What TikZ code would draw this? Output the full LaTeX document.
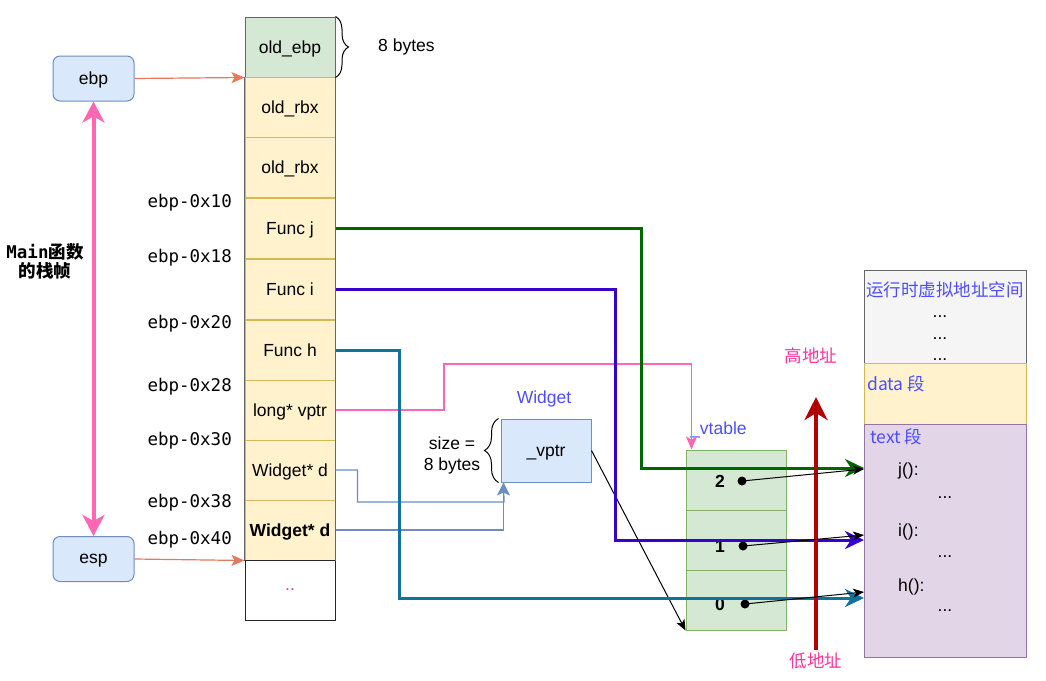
\documentclass[tikz,border=0pt]{standalone}
\usepackage{fontspec}
\setmainfont{Liberation Sans}
\setmonofont{DejaVu Sans Mono}
\newfontfamily\cjk{Noto Sans CJK SC}
\usetikzlibrary{arrows.meta,decorations.pathreplacing}
\definecolor{yelf}{HTML}{FFF2CC}
\definecolor{yelb}{HTML}{D6B656}
\definecolor{grnf}{HTML}{D5E8D4}
\definecolor{grnb}{HTML}{82B366}
\definecolor{bluf}{HTML}{DAE8FC}
\definecolor{blub}{HTML}{6C8EBF}
\definecolor{purf}{HTML}{E1D5E7}
\definecolor{purb}{HTML}{9673A6}
\definecolor{gryf}{HTML}{F5F5F5}
\definecolor{gryb}{HTML}{666666}
\definecolor{lgreen}{HTML}{006600}
\definecolor{lviolet}{HTML}{3700CC}
\definecolor{lblue}{HTML}{10739E}
\definecolor{lpink}{HTML}{FF66B3}
\definecolor{lred}{HTML}{B20000}
\definecolor{lsalmon}{RGB}{229,120,95}
\definecolor{tblue}{HTML}{4D4DFF}
\definecolor{tpink}{HTML}{FF3399}
\newcommand\myfs{\fontsize{17.5}{21}\selectfont}
\begin{document}
\begin{tikzpicture}[x=1pt,y=-1pt,font=\myfs,
  cell/.style={draw=yelb,fill=yelf,line width=1pt,minimum width=90pt,minimum height=60pt,inner sep=0pt,text depth=0pt},
  vcell/.style={draw=grnb,fill=grnf,line width=1pt,minimum width=100pt,minimum height=60pt,inner sep=0pt},
  offs/.style={font=\myfs\ttfamily,anchor=east,inner sep=0pt,text depth=0pt},
  regbox/.style={draw=blub,fill=bluf,line width=1pt,rounded corners=7pt,minimum width=81pt,minimum height=45pt,inner sep=0pt,text depth=0pt},
  thick3/.style={line width=3pt,-{Stealth[length=19pt,width=18pt,inset=6pt]}},
  blk/.style={line width=1pt,black,-{Stealth[length=11pt,width=9pt,inset=3pt]}},
  wline/.style={draw=blub,line width=1.3pt},
  dot/.style={circle,fill=black,inner sep=0pt,minimum size=9pt},
  plain/.style={inner sep=0pt}]
\useasboundingbox (0,0) rectangle (1046,680);

% stack
\node[cell,draw=gryb,fill=grnf] (c0) at (290,47) {old\_ebp};
\node[cell] (c1) at (290,107) {old\_rbx};
\node[cell] (c2) at (290,167.5) {old\_rbx};
\node[cell] (c3) at (290,228.5) {Func j};
\node[cell] (c4) at (290,289.5) {Func i};
\node[cell] (c5) at (290,350) {Func h};
\node[cell] (c6) at (290,410) {long* vptr};
\node[cell] (c7) at (290,470) {Widget* d};
\node[cell] (c8) at (290,530) {\bfseries Widget* d};
\node[cell,draw=black!85,fill=white,text=tpink] (c9) at (290,590) {..};
\draw[gryb,line width=1pt] (c1.north west) -- (c8.south west);
\draw[gryb,line width=1pt] (c1.north east) -- (c8.south east);

% offsets
\node[offs] (o1) at (232,201) {ebp-0x10};
\node[offs] (o2) at (232,256) {ebp-0x18};
\node[offs] (o3) at (232,322) {ebp-0x20};
\node[offs] (o4) at (232,385) {ebp-0x28};
\node[offs] (o5) at (232,439) {ebp-0x30};
\node[offs] (o6) at (232,501) {ebp-0x38};
\node[offs] (o7) at (232,538) {ebp-0x40};

% brace 8 bytes
\draw[line width=1pt,decorate,decoration={brace,amplitude=13pt}] (c0.north east) -- (c0.south east);
\node[plain,anchor=west] (b8) at (378,47) {8 bytes};

% registers
\node[regbox] (ebp) at (93.5,78.5) {ebp};
\node[regbox] (esp) at (93.5,559) {esp};
\draw[lsalmon,line width=1.2pt,-{Stealth[length=13pt,width=11pt,inset=3pt]}] (ebp.east) -- (c0.south west);
\draw[lsalmon,line width=1.2pt,-{Stealth[length=13pt,width=11pt,inset=3pt]}] (esp.east) -- (c8.south west);
\draw[lpink,line width=4pt,{Stealth[length=21pt,width=22pt,inset=6pt]}-{Stealth[length=21pt,width=22pt,inset=6pt]}] (ebp.south) -- (esp.north);
\node[plain,align=center] (mainlbl) at (45,261) {{\ttfamily\bfseries Main}{\cjk\bfseries 函数}\\[-2pt]{\cjk\bfseries 的栈帧}};

% Widget
\node[draw=blub,fill=bluf,line width=1pt,minimum width=90pt,minimum height=63pt,inner sep=0pt,text depth=0pt] (vptr) at (546,450.5) {\_vptr};
\node[plain,text=tblue] (wlbl) at (544,399) {Widget};
\draw[line width=1pt,decorate,decoration={brace,amplitude=14pt}] ([xshift=-2pt]vptr.south west) -- ([xshift=-2pt]vptr.north west);
\node[plain,align=center] (sz) at (452,455) {size =\\8 bytes};
\draw[wline] (c7.east) -- ++(22,0) |- (504,502) -- ([xshift=3pt]vptr.south west);
\draw[wline,-{Stealth[length=13pt,width=13pt,inset=3pt]}] (c8.east) -| ([xshift=3pt]vptr.south west);

% vtable
\node[vcell] (vt2) at (736,480) {};
\node[vcell] (vt1) at (736,540) {};
\node[vcell] (vt0) at (736,600) {};
\node[plain,text=tblue,anchor=west] (vtl) at (690,430) {\_vtable};
\node[plain,font=\myfs\bfseries] (n2) at (720,481) {2};
\node[plain,font=\myfs\bfseries] (n1) at (720,546) {1};
\node[plain,font=\myfs\bfseries] (n0) at (720,604) {0};
\node[dot] (d2) at (742,481) {};
\node[dot] (d1) at (743,546) {};
\node[dot] (d0) at (745,604) {};
\draw[blk] (vptr.east) -- (vt0.south west);

% memory
\node[draw=gryb,fill=gryf,line width=1pt,minimum width=162pt,minimum height=93pt,inner sep=0pt] (mg) at (945,316.5) {};
\node[draw=yelb,fill=yelf,line width=1pt,minimum width=162pt,minimum height=61pt,inner sep=0pt] (md) at (945,393.5) {};
\node[draw=purb,fill=purf,line width=1pt,minimum width=162pt,minimum height=233pt,inner sep=0pt] (mt) at (945,540.5) {};
\node[plain,text=tblue] (mtitle) at (945,290) {\cjk 运行时虚拟地址空间};
\node[plain,anchor=base] (e1) at (940,317) {...};
\node[plain,anchor=base] (e2) at (940,339) {...};
\node[plain,anchor=base] (e3) at (940,360) {...};
\node[plain,text=tblue,anchor=west] (dseg) at (867,384) {\cjk data 段};
\node[plain,text=tblue,anchor=west] (tseg) at (870,437) {\cjk text 段};
\node[plain,anchor=west] (fj) at (898,471) {j():};
\node[plain,anchor=base] (ej) at (945,498) {...};
\node[plain,anchor=west] (fi) at (898,532) {i():};
\node[plain,anchor=base] (ei) at (945,557) {...};
\node[plain,anchor=west] (fh) at (898,587) {h():};
\node[plain,anchor=base] (eh) at (945,611) {...};

\coordinate (tjg) at (864,468);
\coordinate (tig) at (864,540);
\coordinate (thg) at (864,598);
\coordinate (tjb) at (864,469);
\coordinate (tib) at (864,535);
\coordinate (thb) at (864,592);

% coloured pointers
\draw[lpink,line width=1.3pt,-{Stealth[length=13pt,width=11pt,inset=3pt]}] (c6.east) -| (444,364) -| ([xshift=6pt]vt2.north west);
\draw[lgreen,thick3] (c3.east) -| (641,468) -- (tjg);
\draw[lviolet,thick3] (c4.east) -| (615,540) -- (tig);
\draw[lblue,thick3] (c5.east) -| (399,598) -- (thg);

% address arrow
\coordinate (lo) at (816,650);
\coordinate (hi) at (816,397);
\draw[lred,line width=4.5pt,-{Stealth[length=23pt,width=23pt,inset=7pt]}] (lo) -- (hi);
\node[plain,text=tpink] (hil) at (811,356) {\cjk 高地址};
\node[plain,text=tpink] (lol) at (816,661) {\cjk 低地址};

\draw[blk] (d2.center) -- (tjb);
\draw[blk] (d1.center) -- (tib);
\draw[blk] (d0.center) -- (thb);
\end{tikzpicture}
\end{document}
